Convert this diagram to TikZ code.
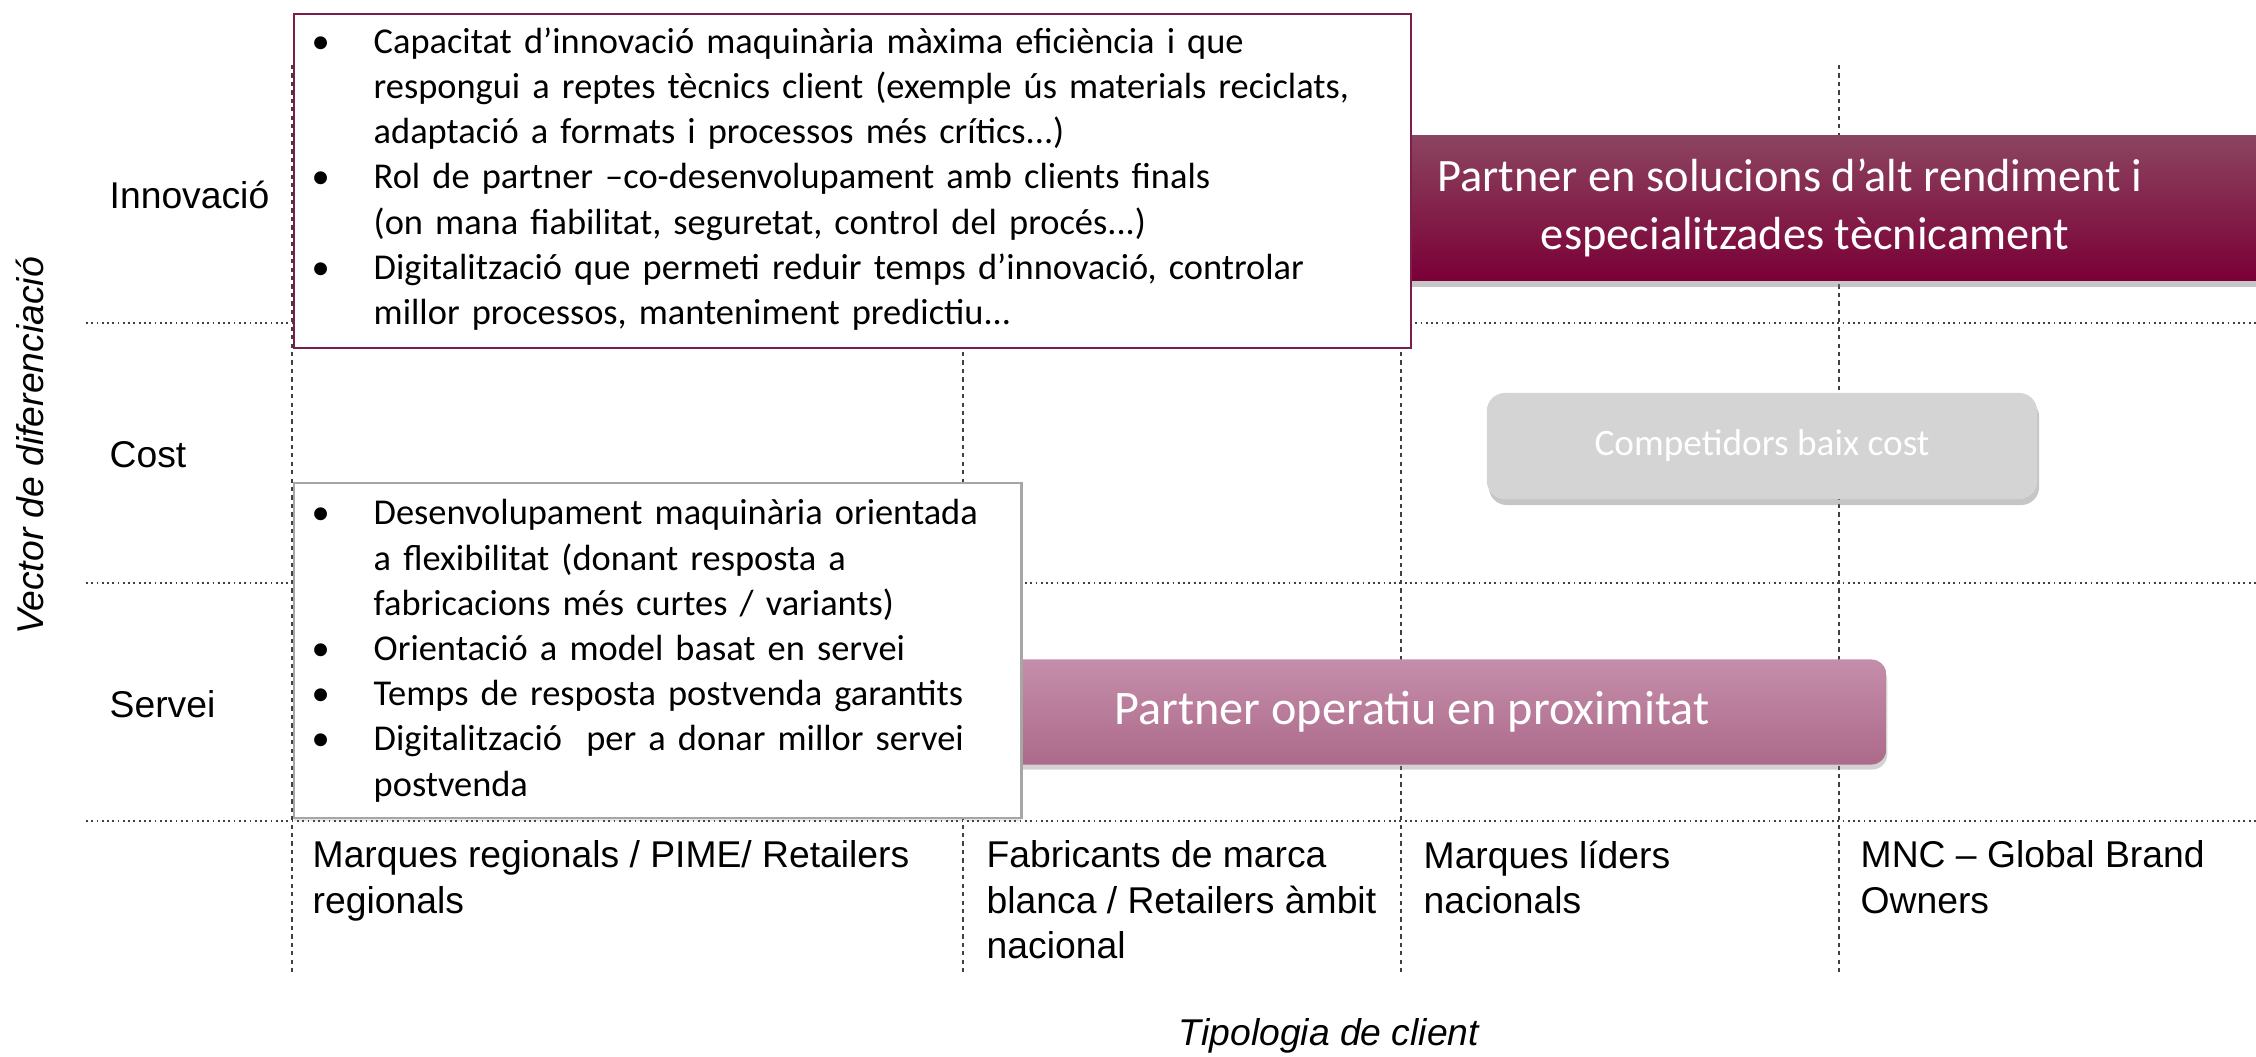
\documentclass[tikz,border=0pt]{standalone}
\usepackage{fontspec}
\setmainfont{Liberation Sans}
\newfontfamily\calibri{Carlito}
\usetikzlibrary{shadows}

\definecolor{wine}{HTML}{7A0036}
\definecolor{winetop}{HTML}{8C4460}
\definecolor{rose}{HTML}{AD6A8A}
\definecolor{rosetop}{HTML}{C48EAA}
\definecolor{greybox}{HTML}{D4D4D4}
\definecolor{gridgray}{HTML}{404040}
\definecolor{boxedge}{HTML}{7B1E4E}

\newcommand{\bfirst}{\rightskip=0pt plus 1fil\hangindent=0.62cm\hangafter=1\noindent
  \makebox[0.62cm][l]{\textbullet}}
\newcommand{\bpt}{\par\bfirst}

\tikzset{
  gridh/.style={gridgray, line width=0.5pt, densely dotted},
  gridv/.style={gridgray, line width=0.5pt, dash pattern=on 1.2pt off 1.2pt},
  rowlab/.style={anchor=base west, inner sep=0pt, font=\fontsize{10.6}{12.7}\selectfont},
  collab/.style={anchor=north west, inner sep=0pt, align=left, font=\fontsize{10.6}{12.9}\selectfont},
  frame/.style={anchor=north west, fill=white, line width=0.6pt, inner sep=0pt},
  listtext/.style={anchor=north west, inner sep=0pt, text width=#1, align=left,
    font=\calibri\fontsize{10.35}{12.85}\selectfont},
  band/.style={text=white, align=center, inner sep=0pt, font=\calibri\fontsize{13.2}{16.4}\selectfont},
}

\begin{document}
\begin{tikzpicture}[x=0.01cm, y=-0.01cm]
  \useasboundingbox (0,0) rectangle (2256,1057);

  % grid
  \foreach \y in {323,583,821} { \draw[gridh] (86,\y) -- (2256,\y); }
  \foreach \x in {292,963,1401,1839} { \draw[gridv] (\x,65) -- (\x,973); }

  % positioning bands
  \node[band, minimum width=9.02cm, minimum height=1.44cm, top color=winetop, bottom color=wine,
    drop shadow={opacity=0.45, shadow xshift=0.01cm, shadow yshift=-0.07cm}] (altrend) at (1805,208)
    {Partner en solucions d’alt rendiment i\hspace*{0.3cm}\\especialitzades tècnicament};
  \node[band, font=\calibri\fontsize{13.7}{16.4}\selectfont, minimum width=9.48cm, minimum height=1.05cm,
    rounded corners=0.15cm, top color=rosetop, bottom color=rose,
    drop shadow={opacity=0.35, shadow xshift=0.01cm, shadow yshift=-0.05cm}] (proxim) at (1412,712)
    {Partner operatiu en proximitat};
  \node[band, font=\calibri\fontsize{10.6}{12.7}\selectfont, minimum width=5.5cm, minimum height=1.06cm,
    rounded corners=0.18cm, fill=greybox,
    drop shadow={opacity=0.45, shadow xshift=0.02cm, shadow yshift=-0.06cm}] (lowcost) at (1762,446)
    {Competidors baix cost};

  % bullet boxes
  \node[frame, draw=boxedge, minimum width=11.16cm, minimum height=3.34cm] (innovframe) at (293,13) {};
  \node[listtext=10.8cm] (innovlist) at (311,27) {%
    \bfirst Capacitat d’innovació maquinària màxima eficiència i que\newline
      respongui a reptes tècnics client (exemple ús materials reciclats,\newline
      adaptació a formats i processos més crítics...)
    \bpt Rol de partner –co-desenvolupament amb clients finals\newline
      (on mana fiabilitat, seguretat, control del procés...)
    \bpt Digitalització que permeti reduir temps d’innovació, controlar\newline
      millor processos, manteniment predictiu...\par};
  \node[frame, draw=gray!70, minimum width=7.27cm, minimum height=3.35cm,
    drop shadow={opacity=0.2, shadow xshift=0pt, shadow yshift=-0.03cm}] (servframe) at (293,482) {};
  \node[listtext=6.95cm] (servlist) at (311,499) {%
    \bfirst Desenvolupament maquinària orientada\newline
      a flexibilitat (donant resposta a\newline
      fabricacions més curtes / variants)
    \bpt Orientació a model basat en servei
    \bpt Temps de resposta postvenda garantits
    \bpt Digitalització\ \ per a donar millor servei\newline
      postvenda\par};

  % axis labels
  \node[rowlab] (rinnov) at (109,208) {Innovació};
  \node[rowlab] (rcost) at (109,467) {Cost};
  \node[rowlab] (rserv) at (109,717) {Servei};
  \node[collab] (cregio) at (312,840) {Marques regionals / PIME/ Retailers\\regionals};
  \node[collab] (cblanc) at (986,840) {Fabricants de marca\\blanca / Retailers àmbit\\nacional};
  \node[collab] (clider) at (1423,840) {Marques líders\\nacionals};
  \node[collab] (cmnc) at (1860,840) {MNC – Global Brand\\Owners};
  \node[rotate=90, inner sep=0pt, font=\itshape\fontsize{10.6}{12.7}\selectfont] (vecdif) at (30,446)
    {Vector de diferenciació};
  \node[anchor=base, inner sep=0pt, font=\itshape\fontsize{10.6}{12.7}\selectfont] (tipcli) at (1329,1045)
    {Tipologia de client};
\end{tikzpicture}
\end{document}
